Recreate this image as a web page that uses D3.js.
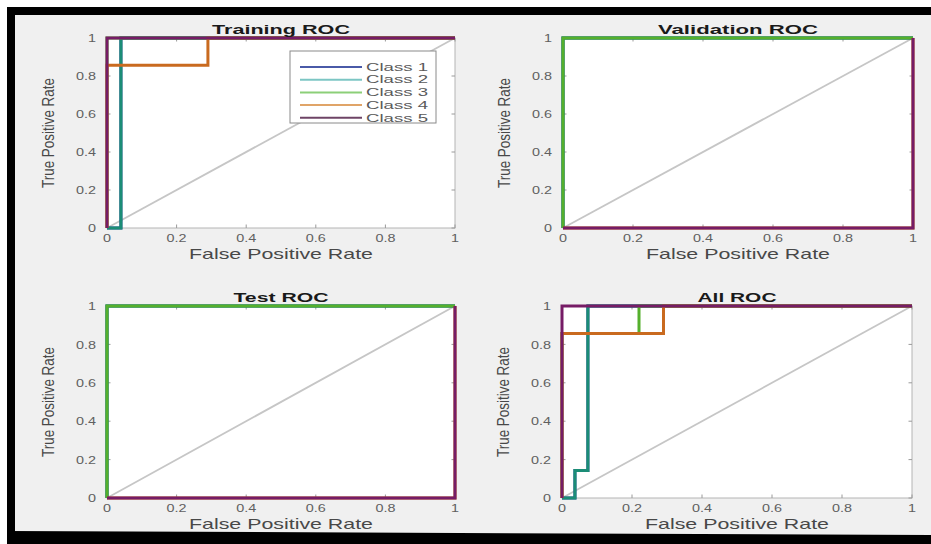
<!DOCTYPE html>
<html>
<head>
<meta charset="utf-8">
<script src="https://cdn.jsdelivr.net/npm/d3@7"></script>
<style>
  html, body { margin: 0; padding: 0; background: #ffffff; }
  svg { display: block; }
  text { font-family: "Liberation Sans", Arial, Helvetica, sans-serif; }
</style>
</head>
<body>
<svg id="fig" width="931" height="544"></svg>
<script>
// ---- data ----
const classNames  = ["Class 1", "Class 2", "Class 3", "Class 4", "Class 5"];
const tickValues  = [0, 0.2, 0.4, 0.6, 0.8, 1];
const tickLabels  = ["0", "0.2", "0.4", "0.6", "0.8", "1"];
const panelTitles = ["Training ROC", "Validation ROC", "Test ROC", "All ROC"];
const xLabel = "False Positive Rate";
const yLabel = "True Positive Rate";
const chanceLine = [[0, 0], [1, 1]];

// ROC curves as [false positive rate, true positive rate] vertices, one list per class
const trainingROC = [
  [[0, 0], [0.04, 0], [0.04, 1], [1, 1]],
  [[0, 0], [0.04, 0], [0.04, 1], [1, 1]],
  [[0, 0], [0, 1], [1, 1]],
  [[0, 0], [0, 0.857], [0.29, 0.857], [0.29, 1], [1, 1]],
  [[0, 0], [0, 1], [1, 1]]
];
const validationROC = [
  [[0, 0], [0, 1], [1, 1]],
  [[0, 0], [0, 1], [1, 1]],
  [[0, 0], [0, 1], [1, 1]],
  [[0, 0], [1, 0], [1, 1]],
  [[0, 0], [1, 0], [1, 1]]
];
const testROC = [
  [[0, 0], [0, 1], [1, 1]],
  [[0, 0], [0, 1], [1, 1]],
  [[0, 0], [0, 1], [1, 1]],
  [[0, 0], [1, 0], [1, 1]],
  [[0, 0], [1, 0], [1, 1]]
];
const allROC = [
  [[0, 0], [0.037, 0], [0.037, 0.143], [0.074, 0.143], [0.074, 1], [1, 1]],
  [[0, 0], [0.037, 0], [0.037, 0.143], [0.074, 0.143], [0.074, 1], [1, 1]],
  [[0, 0], [0, 0.857], [0.22, 0.857], [0.22, 1], [1, 1]],
  [[0, 0], [0, 0.857], [0.29, 0.857], [0.29, 1], [1, 1]],
  [[0, 0], [0, 1], [1, 1]]
];
const panelCurves = [trainingROC, validationROC, testROC, allROC];

// ---- styling / layout ----
const classColors = ["#26409a", "#1b8d76", "#55b02c", "#c96a1f", "#761c66"];
const legendColors = ["#4a5aa8", "#7cc6c4", "#8ccf78", "#e0a468", "#6e4466"];
const panels = [
  { left: 107, right: 455, top: 38,  bottom: 228, titleLen: 138 },
  { left: 563, right: 913, top: 38,  bottom: 228, titleLen: 160 },
  { left: 107, right: 455, top: 306, bottom: 498, titleLen: 95 },
  { left: 562, right: 912, top: 306, bottom: 498, titleLen: 79 }
];

const svg = d3.select("#fig");

// figure background and frame
svg.append("rect").attr("width", 931).attr("height", 544).attr("fill", "#ffffff");
svg.append("rect").attr("x", 7).attr("y", 7).attr("width", 924).attr("height", 537).attr("fill", "#000000");
svg.append("rect").attr("x", 15).attr("y", 15).attr("width", 916).attr("height", 520).attr("fill", "#f0f0f0");
svg.append("polygon")
  .attr("points", "7,531 931,535 931,544 7,544")
  .attr("fill", "#000000");

// widen a text element horizontally by factor sx
function stretch(sel, sx) {
  sel.each(function () {
    const w = this.getComputedTextLength();
    d3.select(this).attr("textLength", w * sx).attr("lengthAdjust", "spacingAndGlyphs");
  });
  return sel;
}

panels.forEach((p, pi) => {
  const x = d3.scaleLinear().domain([0, 1]).range([p.left, p.right]);
  const y = d3.scaleLinear().domain([0, 1]).range([p.bottom, p.top]);
  const g = svg.append("g");

  // plot area
  g.append("rect")
    .attr("x", p.left).attr("y", p.top)
    .attr("width", p.right - p.left).attr("height", p.bottom - p.top)
    .attr("fill", "#ffffff")
    .attr("stroke", "#b4b4b4").attr("stroke-width", 1);

  // inward tick marks on all four sides
  const tl = 3.5;
  tickValues.forEach(v => {
    g.append("line").attr("x1", x(v)).attr("x2", x(v)).attr("y1", p.bottom).attr("y2", p.bottom - tl)
      .attr("stroke", "#9a9a9a");
    g.append("line").attr("x1", x(v)).attr("x2", x(v)).attr("y1", p.top).attr("y2", p.top + tl)
      .attr("stroke", "#9a9a9a");
    g.append("line").attr("y1", y(v)).attr("y2", y(v)).attr("x1", p.left).attr("x2", p.left + tl)
      .attr("stroke", "#9a9a9a");
    g.append("line").attr("y1", y(v)).attr("y2", y(v)).attr("x1", p.right).attr("x2", p.right - tl)
      .attr("stroke", "#9a9a9a");
  });

  // tick labels
  const xt = g.append("g").selectAll("text").data(tickValues).join("text")
    .attr("x", d => x(d)).attr("y", p.bottom + 14)
    .attr("text-anchor", "middle")
    .attr("font-size", 11.5).attr("fill", "#606060")
    .text((d, i) => tickLabels[i]);
  stretch(xt, 1.25);
  const yt = g.append("g").selectAll("text").data(tickValues).join("text")
    .attr("x", p.left - 11).attr("y", d => y(d)).attr("dy", "0.36em")
    .attr("text-anchor", "end")
    .attr("font-size", 11.5).attr("fill", "#606060")
    .text((d, i) => tickLabels[i]);
  stretch(yt, 1.25);

  // chance diagonal
  const line = d3.line().x(d => x(d[0])).y(d => y(d[1]));
  g.append("path").attr("d", line(chanceLine))
    .attr("fill", "none").attr("stroke", "#c6c6c6").attr("stroke-width", 1.8);

  // class curves, drawn in class order so later classes sit on top
  panelCurves[pi].forEach((pts, ci) => {
    g.append("path").attr("d", line(pts))
      .attr("fill", "none")
      .attr("stroke", classColors[ci])
      .attr("stroke-width", 3)
      .attr("stroke-linejoin", "miter");
  });

  // title
  g.append("text")
    .attr("x", (p.left + p.right) / 2).attr("y", p.top - 4)
    .attr("text-anchor", "middle")
    .attr("font-size", 13).attr("font-weight", "bold").attr("fill", "#1a1a1a")
    .attr("textLength", p.titleLen).attr("lengthAdjust", "spacingAndGlyphs")
    .text(panelTitles[pi]);

  // axis labels
  g.append("text")
    .attr("x", (p.left + p.right) / 2).attr("y", p.bottom + 31)
    .attr("text-anchor", "middle")
    .attr("font-size", 15).attr("fill", "#484848")
    .attr("textLength", 184).attr("lengthAdjust", "spacingAndGlyphs")
    .text(xLabel);
  g.append("text")
    .attr("transform", `translate(${p.left - 53},${(p.top + p.bottom) / 2}) scale(1.3,1) rotate(-90)`)
    .attr("text-anchor", "middle")
    .attr("font-size", 13).attr("fill", "#484848")
    .attr("textLength", 110).attr("lengthAdjust", "spacingAndGlyphs")
    .text(yLabel);

  // legend only on the training panel
  if (pi === 0) {
    const lg = g.append("g");
    lg.append("rect")
      .attr("x", 290).attr("y", 51).attr("width", 146).attr("height", 72)
      .attr("fill", "#ffffff").attr("stroke", "#8a8a8a").attr("stroke-width", 1);
    classNames.forEach((name, ci) => {
      const ry = 67 + ci * 12.7;
      lg.append("line").attr("x1", 300).attr("x2", 362).attr("y1", ry).attr("y2", ry)
        .attr("stroke", legendColors[ci]).attr("stroke-width", 2);
      lg.append("text").attr("x", 366).attr("y", ry).attr("dy", "0.36em")
        .attr("font-size", 10.5).attr("fill", "#5a5a5a")
        .attr("textLength", 62).attr("lengthAdjust", "spacingAndGlyphs")
        .text(name);
    });
  }
});
</script>
</body>
</html>
